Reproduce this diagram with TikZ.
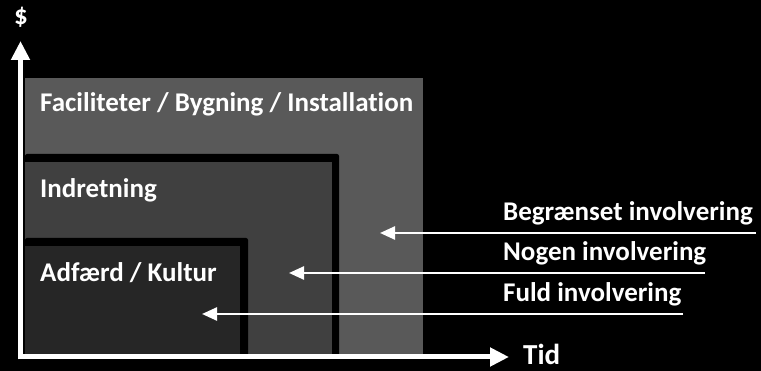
\documentclass[tikz,border=0pt]{standalone}
\usepackage{fontspec}
\setmainfont[Ligatures=NoCommon]{Carlito}
\usetikzlibrary{arrows.meta}
\definecolor{outerg}{HTML}{595959}
\definecolor{midg}{HTML}{404040}
\definecolor{inng}{HTML}{262626}
\begin{document}
\begin{tikzpicture}[x=1pt,y=-1pt,
  lbl/.style={text=white,font=\bfseries\fontsize{27}{30}\selectfont,anchor=west,inner sep=0pt},
  rlbl/.style={text=white,font=\bfseries\fontsize{27}{30}\selectfont,anchor=west,inner sep=0pt},
  axis/.style={white,line width=5pt,-{Triangle[length=19pt,width=18pt]}},
  pointer/.style={white,line width=2.5pt,-{Triangle[length=15pt,width=13pt]}}]
\fill[black] (0,0) rectangle (761,371);
\useasboundingbox (0,0) rectangle (761,371);
% boxes
\fill[outerg] (25,78) rectangle (423,357);
\fill[black,rounded corners=2pt] (25,154) rectangle (339,357);
\fill[midg] (25,162) rectangle (332,357);
\fill[black,rounded corners=2pt] (25,238) rectangle (248,357);
\fill[inng] (25,246) rectangle (240,357);
% labels in boxes
\node[lbl] (fac) at (40,104) {Faciliteter / Bygning / Installation};
\node[lbl] (ind) at (40,190) {Indretning};
\node[lbl] (adf) at (40,273) {Adfærd / Kultur};
% axes
\coordinate (ytip) at (20.5,41);
\coordinate (xtip) at (509,357);
\coordinate (yfoot) at (20.5,359.5);
\coordinate (xfoot) at (18,357);
\draw[axis] (yfoot) -- (ytip);
\draw[axis] (xfoot) -- (xtip);
\node[text=white,font=\bfseries\fontsize{27}{30}\selectfont,inner sep=0pt] (dollar) at (21,17) {\$};
\node[text=white,font=\bfseries\fontsize{29}{32}\selectfont,anchor=base west,inner sep=0pt] (tid) at (523,365) {Tid};
% right labels and pointers
\node[rlbl] (beg) at (503,213) {Begrænset involvering};
\node[rlbl] (nog) at (503,253) {Nogen involvering};
\node[rlbl] (ful) at (503,294) {Fuld involvering};
\coordinate (begE) at (756,233);
\coordinate (begT) at (380,233);
\coordinate (nogE) at (705,273);
\coordinate (nogT) at (289,273);
\coordinate (fulE) at (683,314);
\coordinate (fulT) at (202,314);
\draw[pointer] (begE) -- (begT);
\draw[pointer] (nogE) -- (nogT);
\draw[pointer] (fulE) -- (fulT);
\end{tikzpicture}
\end{document}
